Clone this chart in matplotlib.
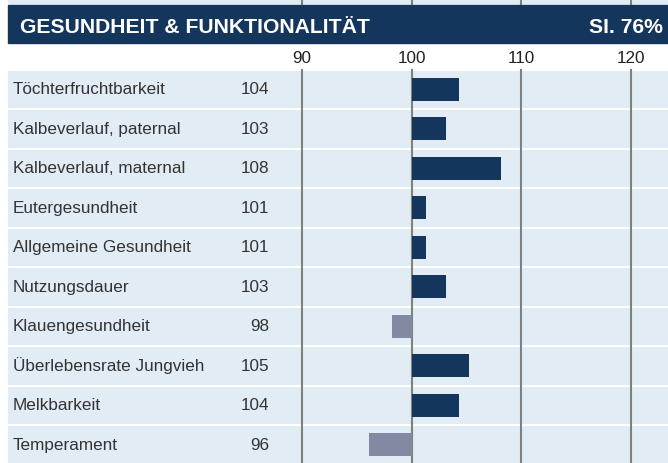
import numpy as np
import matplotlib
matplotlib.use("Agg")
import matplotlib.pyplot as plt
from matplotlib.patches import Rectangle

plt.rcParams['font.family'] = ['Liberation Sans', 'DejaVu Sans']

# data
traits = ["Töchterfruchtbarkeit", "Kalbeverlauf, paternal", "Kalbeverlauf, maternal",
          "Eutergesundheit", "Allgemeine Gesundheit", "Nutzungsdauer",
          "Klauengesundheit", "Überlebensrate Jungvieh", "Melkbarkeit", "Temperament"]
values = [104.3, 103.1, 108.2, 101.3, 101.3, 103.1, 98.2, 105.2, 104.3, 96.1]
shown = [104, 103, 108, 101, 101, 103, 98, 105, 104, 96]
ticks = [90, 100, 110, 120]
title = "GESUNDHEIT & FUNKTIONALITÄT"
si_text = "SI. 76%"

navy = "#14365d"
grey_bar = "#8289a3"
row_bg = "#e1ecf4"
grid_c = "#808080"

# pixel -> data helpers (100 at x=411.7px, ~10.95 px per unit; rows 39.5px apart)
px_unit = 10.95
x0 = 100 - 411.7 / px_unit
x1 = 100 + (668 - 411.7) / px_unit
row_px = 39.5
y_top = -89.3 / row_px
y_bot = (463 - 89.3) / row_px

def px(x):
    return x0 + x / px_unit

def py(y):
    return (y - 89.3) / row_px

fig = plt.figure(figsize=(6.68, 4.63), dpi=100)
ax = fig.add_axes([0, 0, 1, 1])
ax.set_xlim(x0, x1)
ax.set_ylim(y_bot, y_top)
ax.axis('off')

rows = np.arange(len(traits))
band_h = (row_px - 2) / row_px
fs = 12.3

# row backgrounds
ax.barh(rows, x1 - px(8), left=px(8), height=band_h, color=row_bg, zorder=0)
# strip of previous block above the header
ax.add_patch(Rectangle((px(8), py(0)), x1 - px(8), py(3.3) - py(0), color=row_bg, zorder=0))

# grid lines
for t in ticks:
    ax.plot([t, t], [py(70), y_bot], color=grid_c, lw=1.5, zorder=1)
    ax.plot([t, t], [y_top, py(5)], color=grid_c, lw=1.5, zorder=1)
    ax.text(t, py(63.3), str(t), ha='center', va='baseline', fontsize=fs, color='#222222')

# bars
colors = [navy if v >= 100 else grey_bar for v in values]
ax.barh(rows, np.array(values) - 100, left=100, height=23 / row_px, color=colors, zorder=2)

# labels
for i, (name, s) in enumerate(zip(traits, shown)):
    ax.text(px(13), i + 5 / row_px, name, ha='left', va='baseline', fontsize=fs, color='#333333')
    ax.text(px(269.3), i + 5 / row_px, str(s), ha='right', va='baseline', fontsize=fs, color='#333333')

# header
ax.add_patch(Rectangle((px(8), py(5)), x1 - px(8), py(42.7) - py(5), color=navy, zorder=3))
ax.text(px(20), py(33), title, ha='left', va='baseline', fontsize=15.2, fontweight='bold',
        color='white', zorder=4)
ax.text(px(663), py(33), si_text, ha='right', va='baseline', fontsize=15.2, fontweight='bold',
        color='white', zorder=4)

fig.savefig("out.png", dpi=100)
